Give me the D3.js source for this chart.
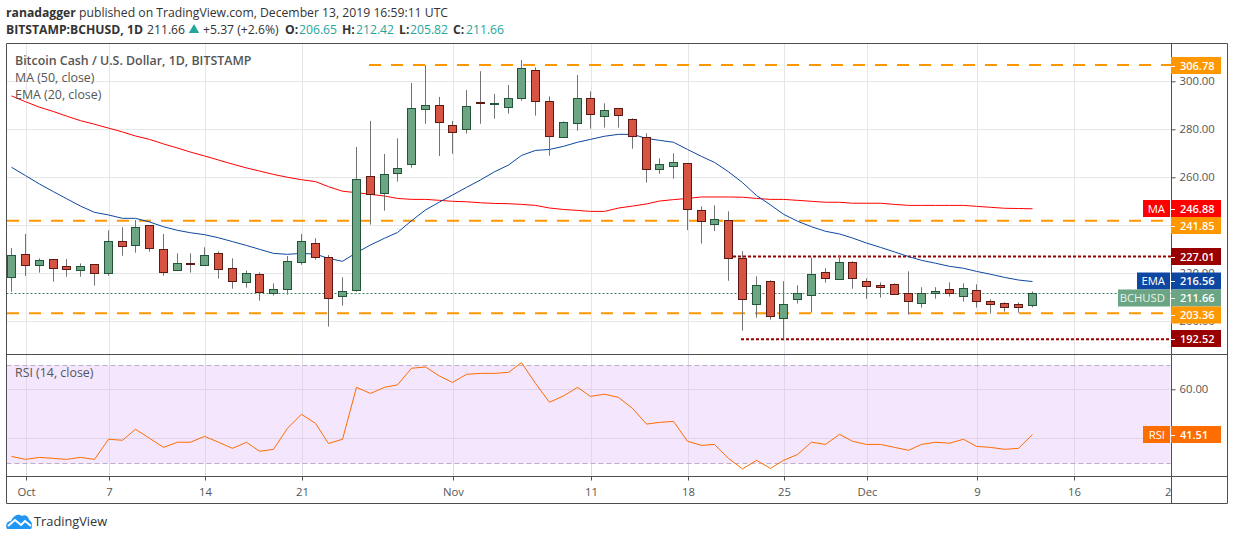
<!DOCTYPE html>
<html>
<head>
<meta charset="utf-8">
<title>BCHUSD</title>
<script src="https://d3js.org/d3.v7.min.js"></script>
<style>
  html, body { margin: 0; padding: 0; background: #fff; }
  svg { display: block; }
  text { font-family: "Open Sans", "Noto Sans", sans-serif; }
</style>
</head>
<body>
<div id="chart"></div>
<script>

// first candle is Sep 30 2019, one candle per day up to Dec 13
var firstDay = new Date(Date.UTC(2019, 8, 30));
var opens = [218.6,227.9,223.6,225.8,222.9,221.5,223.7,220.3,233.3,231.9,240,230,221.5,224.3,223.6,228.3,222.1,216.5,219.6,211.9,213.6,224.6,232.5,227,210.7,212.9,260.4,253.6,261.6,265.4,288.6,290,281.6,280,291.4,290.7,289.2,292.9,304.6,291.6,276.7,282.5,292.9,285.4,288.7,284.2,276.6,263.3,264.8,265.8,246.2,240.4,242.1,226.2,207.1,216.7,201.2,209.2,210.8,220.4,217.5,224.6,216.7,215,215.4,211.7,207.5,211.7,213.3,210.4,212.9,208.3,207.5,207.1,206.65];
var highs = [230.5,236.4,226.2,225.8,225.9,224.1,223.7,237.9,239.2,242.2,240,236.4,228.3,228.3,230.8,229.1,226.2,221.2,220.4,215.8,227.2,236.4,234.6,227.6,218.3,272.6,283.5,269.7,276.2,299.3,306.7,293.5,283.5,296.4,304.2,294.7,298.5,308.9,305.8,293.7,283.3,302.6,295.8,290.8,288.7,284.6,278.3,267.9,270,265.8,247.9,248.3,245.8,229.2,218.7,217.1,216.7,215,226.5,222.1,227.5,225,217.9,216.2,215.8,220.8,214.2,214.2,216.2,215.8,215.4,209.2,207.9,207.9,212.42];
var lows = [212.3,218.9,220.3,216.5,218.6,218.6,214.9,219,227.3,228.6,229,219,221.1,220.3,223.6,217.8,213.6,214,208.6,210.7,211.1,223.6,225.7,197.8,206.5,212.3,240.3,246.1,258.2,264,282.3,268.9,269.8,278.2,282.3,284.4,286.5,291.9,285.7,269,276.7,279.4,280.3,280.7,280.7,271.9,257.8,261.5,259.4,238,232.4,237.6,216.9,196.1,201.5,200.7,192.8,207.4,203.6,216.1,217.5,213.6,209.4,209.9,211.2,202.8,205.7,209.4,210.3,208.2,205.7,203.2,204,203.6,205.82];
var closes = [227.5,223.6,225.4,222.3,221.9,222.9,220.3,233.3,231.5,239.2,230.4,220.7,224.1,224,227.5,221.9,216.9,220,212.3,213.3,225,233.3,226.9,209.6,212.5,259.2,253.2,261.2,263.7,288.7,290,282.9,278.7,289.6,291.1,291,292.9,305.4,291.6,277.1,282.9,292.9,286.2,287.9,285.8,277.1,263.3,265.4,266.2,246.7,241.7,242.5,226.2,209.2,215,202.1,207.1,211.7,219.6,217.9,224.6,217.9,214.6,214.2,211.2,208.3,211.7,212.5,211.7,213.7,208.3,207.3,206.1,206.1,211.66];

var maValues = [293.9,291.5,289.2,287.4,285.5,283.6,282.1,280.5,278.9,277.2,275.8,273.9,272.2,270.5,268.9,267.2,265.5,263.9,262.6,261.2,260,259,258.2,256.1,254.2,253.6,252.9,252.2,251.2,250.8,250.8,250.4,250,249.8,249.4,249.1,249,248.7,248.3,247.2,246.6,246.2,245.8,245.8,247.2,248,248.9,250.1,250.7,251.2,251.8,251.8,251.8,251.7,251.2,250.8,250.8,250.4,250,249.6,249.6,249.2,249.2,249.2,248.7,248.3,248.3,248.3,248.3,248.3,247.9,247.5,247.1,247,246.88];
var emaValues = [264.2,260.7,257.2,254,251.1,248,245.4,244.3,242.9,242.9,241.4,239.4,237.9,236.9,236.1,234.8,233.2,231.6,230,228.3,227.9,228.3,228,226.2,225,228.6,231.8,234.6,237,241.9,246.4,249.7,252.6,255.8,258.9,262.3,265.1,269.1,271.2,271.6,272.9,274.6,275.8,277.1,277.9,277.9,276.2,275.4,274.6,271.6,268.7,266.2,262.3,257.8,252.4,248.5,244.6,241.7,239.4,237.5,236.4,234.7,232.6,230.8,228.9,227,225.4,224.2,222.9,222.1,220.8,219.6,218.3,217.2,216.56];
var rsiValues = [32.6,31.4,32.2,31.8,31.4,32.2,31.4,39.6,39.2,43.7,40,36.3,38.4,38.4,40.8,38.4,35.9,38.4,34.7,35.5,44.1,49.8,46.1,37.9,39.6,60.8,58.3,60.8,61.8,68.6,69.1,65.4,62.8,66.1,66.5,66.5,66.9,70.9,62.4,54.7,57.3,60.8,57.1,58,56.7,52.2,45.8,46.5,46.9,38.8,37.1,37.5,31.8,27.5,31,27.7,31,33.4,38.4,37.5,41.6,38.8,37.5,37.5,36.3,35.1,37.5,38.4,38,39.6,36.7,36.3,35.5,35.9,41.51];

var priceTicks = [200,220,240,260,280,300];
var rsiTicks = [40,60];
var rsiBand = [30,70];
var dateTicks = [[2019,9,1],[2019,9,7],[2019,9,14],[2019,9,21],[2019,10,1],[2019,10,11],[2019,10,18],[2019,10,25],[2019,11,1],[2019,11,9],[2019,11,16],[2019,11,23]];
var dateLabels = ["Oct","7","14","21","Nov","11","18","25","Dec","9","16","23"];

// horizontal levels drawn on the chart
var orangeLevels = [306.78,241.85,203.36];
var redLevels = [227.01,192.52];
var lastPrice = 211.66;

var upFill = "#6ba583", upLine = "#225437";
var downFill = "#d75442", downLine = "#5b1a13";
var gridColor = "#e6e6e6", frameColor = "#4f4f4f", textColor = "#555";
var axisFont = "11.3px", legendFont = "12.4px", headerFont = "12.2px";

var width = 1234, height = 540;
var left = 6.5, right = 1227.5, axisX = 1171.5;
var top1 = 43.5, bottom1 = 354.5, bottom2 = 476.5, bottomAll = 503.5;

var svg = d3.select("#chart").append("svg")
    .attr("width", width)
    .attr("height", height);

var days = opens.map(function(d, i) { return d3.utcDay.offset(firstDay, i); });
var tickDates = dateTicks.map(function(d) { return new Date(Date.UTC(d[0], d[1], d[2])); });

var x = d3.scaleUtc()
    .domain([tickDates[0], tickDates[10]])
    .rangeRound([26, 1074]);
var y = d3.scaleLinear().domain([200, 300]).range([321.3, 81.3]);
var yRsi = d3.scaleLinear().domain([40, 60]).range([438.3, 389.3]);

function cx(i) { return x(days[i]) - 0.5; }
function crisp(v) { return Math.round(v) + 0.5; }

// the last date label is cut by the price axis
svg.append("defs").append("clipPath").attr("id", "xclip")
    .append("rect").attr("x", 0).attr("y", 0).attr("width", axisX).attr("height", 27);

// rsi band goes under the grid
svg.append("rect")
    .attr("x", left).attr("width", axisX - left - 1)
    .attr("y", crisp(yRsi(rsiBand[1])))
    .attr("height", crisp(yRsi(rsiBand[0])) - crisp(yRsi(rsiBand[1])))
    .attr("fill", "#f4e6fd");

// grid
var grid = svg.append("g");
grid.selectAll(".v1").data(tickDates.slice(0, 11)).enter().append("line")
    .attr("x1", function(d) { return x(d) + 0.5; })
    .attr("x2", function(d) { return x(d) + 0.5; })
    .attr("y1", top1).attr("y2", bottom1)
    .attr("stroke", gridColor);
grid.selectAll(".v2").data(tickDates.slice(0, 11)).enter().append("line")
    .attr("x1", function(d) { return x(d) + 0.5; })
    .attr("x2", function(d) { return x(d) + 0.5; })
    .attr("y1", bottom1).attr("y2", bottom2)
    .attr("stroke", "#e0d8e6");
grid.selectAll(".h1").data(priceTicks).enter().append("line")
    .attr("x1", left).attr("x2", axisX)
    .attr("y1", function(d) { return crisp(y(d)); })
    .attr("y2", function(d) { return crisp(y(d)); })
    .attr("stroke", gridColor);
grid.selectAll(".h2").data(rsiTicks).enter().append("line")
    .attr("x1", left).attr("x2", axisX - 1)
    .attr("y1", function(d) { return crisp(yRsi(d)); })
    .attr("y2", function(d) { return crisp(yRsi(d)); })
    .attr("stroke", "#e0d3ea");
grid.selectAll(".band").data(rsiBand).enter().append("line")
    .attr("x1", left).attr("x2", axisX - 1)
    .attr("y1", function(d) { return crisp(yRsi(d)); })
    .attr("y2", function(d) { return crisp(yRsi(d)); })
    .attr("stroke", "#bcaec6")
    .attr("stroke-dasharray", "5,3");

// level lines
svg.selectAll(".orange").data(orangeLevels).enter().append("line")
    .attr("x1", function(d, i) { return i == 0 ? 369 : 7; })
    .attr("x2", function(d, i) { return i == 0 ? axisX : 1163; })
    .attr("y1", function(d) { return y(d); })
    .attr("y2", function(d) { return y(d); })
    .attr("stroke", "#ff9800")
    .attr("stroke-width", 2)
    .attr("stroke-dasharray", "12,10");

svg.selectAll(".red").data(redLevels).enter().append("line")
    .attr("x1", function(d, i) { return i == 0 ? 733 : 741; })
    .attr("x2", axisX)
    .attr("y1", function(d) { return y(d); })
    .attr("y2", function(d) { return y(d); })
    .attr("stroke", "#990000")
    .attr("stroke-width", 2)
    .attr("stroke-dasharray", "3,2");

svg.append("line")
    .attr("x1", left).attr("x2", axisX)
    .attr("y1", crisp(y(lastPrice) - 0.5)).attr("y2", crisp(y(lastPrice) - 0.5))
    .attr("stroke", "#3f7d5c")
    .attr("stroke-dasharray", "2,2");

// moving averages
var priceLine = d3.line()
    .x(function(d, i) { return cx(i); })
    .y(function(d) { return y(d); });

svg.append("path").datum(maValues)
    .attr("d", priceLine)
    .attr("fill", "none").attr("stroke", "#ff0000").attr("stroke-width", 1);
svg.append("path").datum(emaValues)
    .attr("d", priceLine)
    .attr("fill", "none").attr("stroke", "#0d47a1").attr("stroke-width", 1);

// candles
var candle = svg.selectAll(".candle").data(opens).enter().append("g");
candle.append("line")
    .attr("x1", function(d, i) { return cx(i); })
    .attr("x2", function(d, i) { return cx(i); })
    .attr("y1", function(d, i) { return y(highs[i]); })
    .attr("y2", function(d, i) { return y(lows[i]); })
    .attr("stroke", "#737375");
candle.append("rect")
    .attr("x", function(d, i) { return cx(i) - 4; })
    .attr("width", 8)
    .attr("y", function(d, i) { return crisp(y(Math.max(opens[i], closes[i]))); })
    .attr("height", function(d, i) { return crisp(y(Math.min(opens[i], closes[i]))) - crisp(y(Math.max(opens[i], closes[i]))); })
    .attr("fill", function(d, i) { return closes[i] >= opens[i] ? upFill : downFill; })
    .attr("stroke", function(d, i) { return closes[i] >= opens[i] ? upLine : downLine; });

// rsi
var rsiLine = d3.line()
    .x(function(d, i) { return cx(i); })
    .y(function(d) { return yRsi(d); });
svg.append("path").datum(rsiValues)
    .attr("d", rsiLine)
    .attr("fill", "none").attr("stroke", "#ff6d00").attr("stroke-width", 1);

// axes
var xAxis = svg.append("g")
    .attr("transform", "translate(0," + bottom2 + ")")
    .attr("clip-path", "url(#xclip)")
    .call(d3.axisBottom(x).tickValues(tickDates)
        .tickFormat(function(d, i) { return dateLabels[i]; })
        .tickSize(4).tickPadding(7));
var yAxis = svg.append("g")
    .attr("transform", "translate(" + axisX + ",0)")
    .call(d3.axisRight(y).tickValues(priceTicks).tickFormat(d3.format(".2f")).tickSize(4).tickPadding(4));
var rsiAxis = svg.append("g")
    .attr("transform", "translate(" + axisX + ",0)")
    .call(d3.axisRight(yRsi).tickValues([60]).tickFormat(d3.format(".2f")).tickSize(4).tickPadding(4));

[xAxis, yAxis, rsiAxis].forEach(function(a) {
    a.select(".domain").remove();
    a.selectAll("line").attr("stroke", frameColor);
    a.selectAll("text").attr("fill", textColor).style("font-size", axisFont);
});

// frame
var frame = [[left, top1, right, top1], [left, bottom1, right, bottom1], [left, bottom2, right, bottom2],
    [left, bottomAll, right, bottomAll], [left, top1, left, bottomAll], [axisX, top1, axisX, bottomAll], [right, top1, right, bottomAll]];
svg.selectAll(".frame").data(frame).enter().append("line")
    .attr("x1", function(d) { return d[0]; }).attr("y1", function(d) { return d[1]; })
    .attr("x2", function(d) { return d[2]; }).attr("y2", function(d) { return d[3]; })
    .attr("stroke", frameColor);

// value labels on the right
function priceTag(cy, color, value, name, nameLeft, nameColor) {
    if (name) {
        svg.append("rect").attr("x", nameLeft).attr("y", cy - 8.5)
            .attr("width", 1170 - nameLeft).attr("height", 17).attr("fill", color);
        svg.append("text").attr("x", 1165).attr("y", cy + 4)
            .attr("text-anchor", "end").attr("fill", nameColor || "#fff")
            .style("font-size", axisFont).text(name);
    }
    svg.append("rect").attr("x", 1171).attr("y", cy - 8.5)
        .attr("width", 50).attr("height", 17).attr("fill", color);
    svg.append("line").attr("x1", 1171).attr("x2", 1175).attr("y1", crisp(cy)).attr("y2", crisp(cy)).attr("stroke", "#fff");
    svg.append("text").attr("x", 1180).attr("y", cy + 4)
        .attr("fill", "#fff").style("font-size", "11px").style("font-weight", 600).text(value);
}
priceTag(65.5, "#ff9800", "306.78");
priceTag(208.5, "#ff0000", "246.88", "MA", 1143);
priceTag(225.5, "#ff9800", "241.85");
priceTag(256.5, "#990000", "227.01");
priceTag(281, "#0d47a1", "216.56", "EMA", 1137);
priceTag(298, "#6ba583", "211.66", "BCHUSD", 1118, "#e8f2ec");
priceTag(315, "#ff9800", "203.36");
priceTag(338.5, "#990000", "192.52");
priceTag(434.5, "#ff6d00", "41.51", "RSI", 1143);

// legends
svg.append("text").attr("x", 15).attr("y", 65).attr("fill", "#555").style("font-size", legendFont).style("font-weight", 600)
    .text("Bitcoin Cash / U.S. Dollar, 1D, BITSTAMP");
svg.append("text").attr("x", 15).attr("y", 82).attr("fill", "#555").style("font-size", legendFont).text("MA (50, close)");
svg.append("text").attr("x", 15).attr("y", 99).attr("fill", "#555").style("font-size", legendFont).text("EMA (20, close)");
svg.append("text").attr("x", 15).attr("y", 377).attr("fill", "#555").style("font-size", legendFont).text("RSI (14, close)");

// header lines
var h1 = svg.append("text").attr("x", 6).attr("y", 17).attr("fill", "#333").style("font-size", headerFont);
h1.append("tspan").style("font-weight", 700).text("ranadagger");
h1.append("tspan").text(" published on TradingView.com, December 13, 2019 16:59:11 UTC");

var teal = "#26a69a";
var h2 = svg.append("text").attr("y", 34).attr("fill", "#333").style("font-size", headerFont);
function headerPart(px, txt, bold, color) {
    var t = h2.append("tspan").attr("x", px).text(txt);
    if (bold) t.style("font-weight", 700);
    if (color) t.attr("fill", color);
}
headerPart(6, "BITSTAMP:BCHUSD, 1D", true);
headerPart(147, "211.66");
headerPart(203, "+5.37 (+2.6%)");
headerPart(285, "O:", true);
headerPart(299, "206.65", false, teal);
headerPart(342, "H:", true);
headerPart(356, "212.42", false, teal);
headerPart(399, "L:", true);
headerPart(410, "205.82", false, teal);
headerPart(453, "C:", true);
headerPart(466, "211.66", false, teal);
svg.append("path")
    .attr("d", d3.symbol().type(d3.symbolTriangle).size(48))
    .attr("transform", "translate(194,30)")
    .attr("fill", teal);

// logo
var logo = svg.append("g").attr("transform", "translate(6,514)");
logo.append("path")
    .attr("d", "M1 15 C-1 11 1 7 5 7 C7 2 12 -1 16 2 C19 0 23 3 23 6 C26 7 27 12 25 15 Z")
    .attr("fill", "#2196f3");
logo.append("path")
    .attr("d", "M2 12 L9 6 L15 11 L19 7 L25 12")
    .attr("fill", "none").attr("stroke", "#fff").attr("stroke-width", 2);
svg.append("text").attr("x", 34).attr("y", 526).attr("fill", "#333").style("font-size", "12.8px").text("TradingView");

</script>
</body>
</html>
